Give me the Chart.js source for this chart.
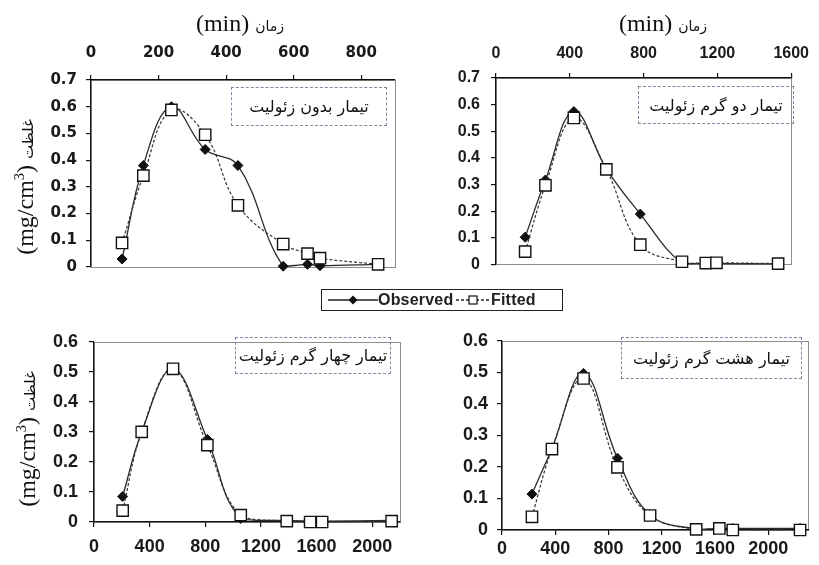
<!DOCTYPE html>
<html>
<head>
<meta charset="utf-8">
<script src="https://cdn.jsdelivr.net/npm/chart.js@4.4.0/dist/chart.umd.min.js"></script>
<style>
  body { margin: 0; background: #fff; }
  #wrap { position: relative; width: 819px; height: 565px; overflow: hidden; background: #fff; }
  canvas { position: absolute; }
  .xtitle, .ytitle { position: absolute; white-space: nowrap; color: #111;
    font-family: "Liberation Serif", serif; font-size: 24px; direction: ltr; }
  .xtitle { transform: translate(-50%, -50%); }
  .ytitle { transform: translate(-50%, -50%) rotate(-90deg); }
  .fa { font-family: "DejaVu Sans", sans-serif; font-size: 14px; }
  .ytitle .fa { font-size: 15px; }
  sup { font-size: 0.6em; }
  .note { position: absolute; border: 1px dashed #7d8aa3; box-sizing: border-box;
    display: flex; align-items: center; justify-content: center; direction: rtl; white-space: nowrap;
    font-family: "DejaVu Sans", sans-serif; font-size: 16px; color: #111; }
  #legend { position: absolute; left: 321px; top: 289px; width: 242px; height: 22px;
    border: 1px solid #222; box-sizing: border-box;
    font-family: "Liberation Sans", Arial, sans-serif; font-weight: bold; font-size: 16px; color: #222; }
  #legend svg, #legend span { position: absolute; top: 0; }
  #legend span { line-height: 20px; letter-spacing: 0.2px; }
</style>
</head>
<body>
<div id="wrap">
  <canvas id="c1" width="410" height="255" style="left:0;top:30px"></canvas>
  <canvas id="c2" width="409" height="255" style="left:410px;top:30px"></canvas>
  <canvas id="c3" width="410" height="245" style="left:0;top:320px"></canvas>
  <canvas id="c4" width="409" height="245" style="left:410px;top:320px"></canvas>

  <div class="xtitle" style="left:240px;top:23px">(min) <span class="fa">زمان</span></div>
  <div class="xtitle" style="left:663px;top:23px">(min) <span class="fa">زمان</span></div>
  <div class="ytitle" style="left:25px;top:187px">(mg/cm<sup>3</sup>) <span class="fa">غلظت</span></div>
  <div class="ytitle" style="left:27px;top:439px">(mg/cm<sup>3</sup>) <span class="fa">غلظت</span></div>

  <div class="note" style="left:231px;top:87px;width:156px;height:39px">تیمار بدون زئولیت</div>
  <div class="note" style="left:638px;top:86px;width:156px;height:38px">تیمار دو گرم زئولیت</div>
  <div class="note" style="left:235px;top:337px;width:156px;height:37px">تیمار چهار گرم زئولیت</div>
  <div class="note" style="left:621px;top:337px;width:181px;height:42px">تیمار هشت گرم زئولیت</div>

  <div id="legend">
    <svg width="52" height="20" style="left:4px"><line x1="2" y1="10" x2="52" y2="10" stroke="#222" stroke-width="1.3"/><path d="M27 5.5 L31.5 10 L27 14.5 L22.5 10 Z" fill="#111"/></svg>
    <span style="left:56px">Observed</span>
    <svg width="34" height="20" style="left:134px"><line x1="0" y1="10" x2="34" y2="10" stroke="#222" stroke-width="1.3" stroke-dasharray="3,2"/><rect x="13" y="6" width="8" height="8" fill="#fff" stroke="#111" stroke-width="1.2"/></svg>
    <span style="left:169px">Fitted</span>
  </div>
</div>

<script>
// time (min) and concentration (mg/cm3) per treatment
var p1Time = [92, 155, 238, 338, 435, 569, 641, 678, 850];
var p1Observed = [0.03, 0.38, 0.60, 0.44, 0.38, 0.003, 0.01, 0.005, 0.01];
var p1Fitted = [0.09, 0.342, 0.588, 0.495, 0.231, 0.086, 0.05, 0.033, 0.01];

var p2Time = [158, 268, 422, 598, 782, 1008, 1137, 1195, 1529];
var p2Observed = [0.102, 0.317, 0.574, 0.359, 0.189, 0.005, 0.003, 0.003, 0.002];
var p2Fitted = [0.048, 0.297, 0.55, 0.357, 0.074, 0.01, 0.005, 0.006, 0.003];

var p3Time = [206, 343, 568, 815, 1055, 1386, 1554, 1640, 2140];
var p3Observed = [0.085, 0.30, 0.51, 0.275, 0.012, 0.005, 0.003, 0.003, 0.005];
var p3Fitted = [0.038, 0.30, 0.51, 0.256, 0.023, 0.003, 0.0, 0.0, 0.003];

var p4Time = [225, 375, 612, 867, 1112, 1458, 1632, 1733, 2238];
var p4Observed = [0.114, 0.259, 0.497, 0.228, 0.048, 0.003, 0.005, 0.005, 0.005];
var p4Fitted = [0.042, 0.257, 0.481, 0.199, 0.046, 0.002, 0.005, 0.0, 0.0];

// tick labels
var p1XTicks = [0, 200, 400, 600, 800];
var p2XTicks = [0, 400, 800, 1200, 1600];
var p3XTicks = [0, 400, 800, 1200, 1600, 2000];
var p4XTicks = [0, 400, 800, 1200, 1600, 2000];
var topYTicks = [0, 0.1, 0.2, 0.3, 0.4, 0.5, 0.6, 0.7];
var bottomYTicks = [0, 0.1, 0.2, 0.3, 0.4, 0.5, 0.6];

// gray frame round the plot area, drawn before the axes
var frame = {
    id: 'frame',
    beforeDraw: function (chart) {
        var a = chart.chartArea, c = chart.ctx;
        c.save();
        c.strokeStyle = '#8c8c8c';
        c.lineWidth = 1;
        c.strokeRect(Math.round(a.left) + 0.5, Math.round(a.top) + 0.5, Math.round(a.right - a.left), Math.round(a.bottom - a.top));
        c.restore();
    }
};

function toPoints(xs, ys) {
    return xs.map(function (x, i) { return { x: x, y: ys[i] }; });
}

function setTicks(list) {
    return function (scale) {
        scale.ticks = list.map(function (v) { return { value: v }; });
    };
}

function makePanel(id, p) {
    var ctx = document.getElementById(id).getContext('2d');
    var font = { family: p.fontFamily, weight: 'bold', size: p.fontSize };
    return new Chart(ctx, {
        type: 'line',
        data: {
            datasets: [{
                label: 'Observed',
                data: toPoints(p.time, p.observed),
                order: 2,
                borderColor: '#2a2a2a',
                borderWidth: 1.3,
                tension: 0.4,
                pointStyle: 'rectRot',
                pointRadius: 5,
                pointBackgroundColor: '#111',
                pointBorderColor: '#111',
                pointBorderWidth: 1,
                clip: false
            }, {
                label: 'Fitted',
                data: toPoints(p.time, p.fitted),
                order: 1,
                borderColor: '#333',
                borderWidth: 1.2,
                borderDash: [3, 2],
                tension: 0.4,
                pointStyle: 'rect',
                pointRadius: 8,
                pointBackgroundColor: '#fff',
                pointBorderColor: '#111',
                pointBorderWidth: 1.4,
                clip: false
            }]
        },
        options: {
            responsive: false,
            animation: false,
            devicePixelRatio: 1,
            layout: { padding: p.padding },
            plugins: { legend: { display: false }, tooltip: { enabled: false } },
            scales: {
                x: {
                    type: 'linear',
                    position: p.xPos,
                    min: 0,
                    max: p.xMax,
                    border: { color: '#111', width: 1.2 },
                    grid: { drawOnChartArea: false, tickLength: 5, color: '#111', lineWidth: 1.2 },
                    afterBuildTicks: setTicks(p.xTicks),
                    ticks: {
                        maxRotation: 0, autoSkip: false,
                        padding: p.xPad, color: '#1a1a1a', font: font,
                        callback: function (v) { return String(v); }
                    },
                    afterFit: function (s) { s.height = p.xHeight; }
                },
                y: {
                    min: 0,
                    max: p.yTicks[p.yTicks.length - 1],
                    border: { color: '#111', width: 1.2 },
                    grid: { drawOnChartArea: false, tickLength: 5, color: '#111', lineWidth: 1.2 },
                    afterBuildTicks: setTicks(p.yTicks),
                    ticks: {
                        padding: p.yPad, color: '#1a1a1a', font: font,
                        callback: function (v) { return String(Number(v.toFixed(1))); }
                    },
                    afterFit: function (s) { s.width = p.yWidth; }
                }
            }
        },
        plugins: [frame]
    });
}

makePanel('c1', { time: p1Time, observed: p1Observed, fitted: p1Fitted,
    xPos: 'top', xMax: 900, xTicks: p1XTicks, yTicks: topYTicks,
    fontFamily: 'DejaVu Sans', fontSize: 15,
    xHeight: 50, yWidth: 91, xPad: 13, yPad: 9,
    padding: { left: 0, top: 0, right: 15, bottom: 11 } });

makePanel('c2', { time: p2Time, observed: p2Observed, fitted: p2Fitted,
    xPos: 'top', xMax: 1600, xTicks: p2XTicks, yTicks: topYTicks,
    fontFamily: 'Liberation Sans', fontSize: 16,
    xHeight: 48, yWidth: 86, xPad: 10, yPad: 11,
    padding: { left: 0, top: 0, right: 19.5, bottom: 12 } });

makePanel('c3', { time: p3Time, observed: p3Observed, fitted: p3Fitted,
    xPos: 'bottom', xMax: 2200, xTicks: p3XTicks, yTicks: bottomYTicks,
    fontFamily: 'Liberation Sans', fontSize: 18,
    xHeight: 43, yWidth: 94, xPad: 9, yPad: 11,
    padding: { left: 0, top: 9, right: 10, bottom: 0 } });

makePanel('c4', { time: p4Time, observed: p4Observed, fitted: p4Fitted,
    xPos: 'bottom', xMax: 2300, xTicks: p4XTicks, yTicks: bottomYTicks,
    fontFamily: 'Liberation Sans', fontSize: 18,
    xHeight: 35, yWidth: 92, xPad: 3.5, yPad: 9,
    padding: { left: 0, top: 21, right: 10.7, bottom: 0 } });
</script>
</body>
</html>
